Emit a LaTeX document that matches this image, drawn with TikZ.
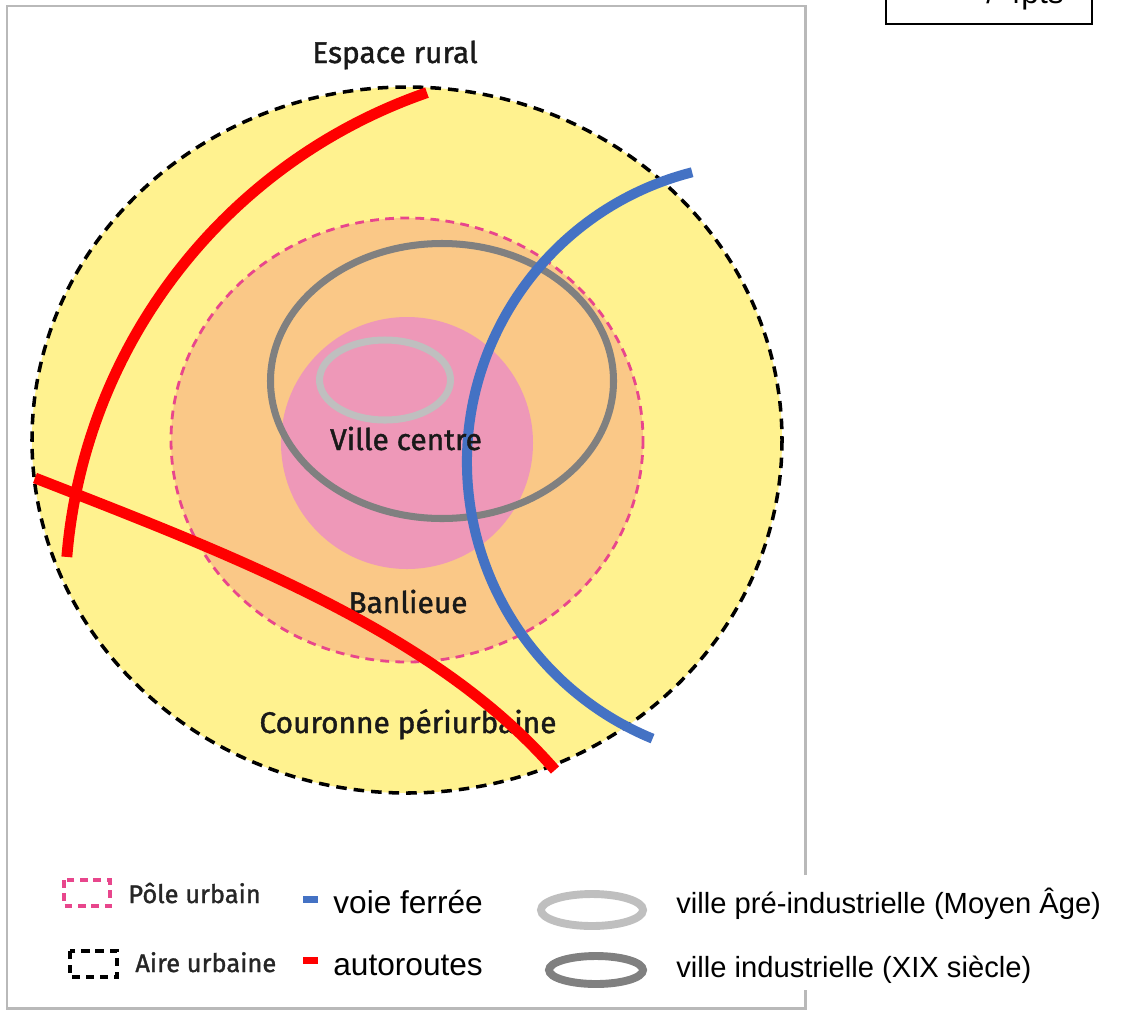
\documentclass[tikz,border=0pt]{standalone}
\usepackage{fontspec}
\setmainfont{Liberation Sans}
\newfontfamily\mapfont[FakeBold=1.3]{Fira Sans}
\usetikzlibrary{positioning}

\definecolor{aireyellow}{RGB}{255,242,143}
\definecolor{poleorange}{RGB}{250,200,135}
\definecolor{villepink}{RGB}{238,152,184}
\definecolor{polepink}{RGB}{232,70,140}
\definecolor{ferblue}{RGB}{68,114,196}
\definecolor{lightgrey}{RGB}{191,191,191}
\definecolor{darkgrey}{RGB}{128,128,128}
\definecolor{framegrey}{RGB}{185,185,185}

\tikzset{
  maplabel/.style={font=\mapfont\fontsize{17}{20}\selectfont, text=black!90, inner sep=0pt, anchor=base},
  legfira/.style={font=\mapfont\fontsize{14.5}{17}\selectfont, text=black!85, inner sep=0pt, anchor=base west},
  legtext/.style={font=\fontsize{18}{21}\selectfont, inner sep=0pt, anchor=base west},
  airedash/.style={black, line width=2pt, dash pattern=on 6pt off 4pt},
  poledash/.style={polepink, line width=1.6pt, dash pattern=on 5pt off 3.6pt},
  autoroute/.style={red, line width=6.2pt},
  voieferree/.style={ferblue, line width=5.7pt}
}

\begin{document}
\begin{tikzpicture}[x=0.02cm, y=-0.02cm]
    \useasboundingbox (0,0) rectangle (1125,1011);

    \draw [framegrey, line width=1.7pt] (805,875) -- (805,6) -- (7,6) -- (7,1008) -- (805,1008) -- (805,990);

    \draw [airedash, fill=aireyellow] (407,440) ellipse [x radius=375, y radius=353];
    \draw [poledash, fill=poleorange] (407,440) ellipse [x radius=236, y radius=222];
    \fill [villepink] (407,443) circle [radius=126];

    \draw [lightgrey, line width=4pt] (385,380) ellipse [x radius=65.5, y radius=40];
    \draw [darkgrey, line width=4pt] (442,381) ellipse [x radius=171.5, y radius=137.5];

    \draw [voieferree] (766,462) ++(255.7:299) arc [start angle=255.7, end angle=112.3, radius=299];

    \node [maplabel] (rural) at (395,63) {Espace rural};
    \node [maplabel] (centre) at (406,450) {Ville centre};
    \node [maplabel] (banlieue) at (408,613) {Banlieue};
    \node [maplabel] (couronne) at (408,733) {Couronne périurbaine};

    \draw [autoroute] (603,601) ++(250.9:538) arc [start angle=250.9, end angle=184.7, radius=538];
    \draw [autoroute] (35,478) .. controls (235,556) and (435,632) .. (555,770);

    \draw [poledash, line width=1.8pt, dash pattern=on 4.4pt off 3.2pt] (64,880) rectangle (110,906);
    \draw [airedash, dash pattern=on 4.6pt off 3.4pt] (70,951) rectangle (117,977);
    \node [legfira] (pole) at (128,903) {Pôle urbain};
    \node [legfira] (aire) at (135,972) {Aire urbaine};

    \fill [ferblue] (303,896) rectangle (318,903);
    \fill [red] (303,957) rectangle (318,964);
    \node [legtext] (ferree) at (333,913) {voie ferrée};
    \node [legtext] (autoroutes) at (333,975) {autoroutes};

    \draw [lightgrey, line width=4.5pt] (592,910) ellipse [x radius=51, y radius=16];
    \draw [darkgrey, line width=4.5pt] (596,970) ellipse [x radius=47, y radius=14];
    \node [legtext, font=\fontsize{16.6}{20}\selectfont] (preind) at (676,913) {ville pré-industrielle (Moyen Âge)};
    \node [legtext, font=\fontsize{16.6}{20}\selectfont] (indus) at (676,977) {ville industrielle (XIX siècle)};

    \draw [black, line width=0.8pt] (886,-30) -- (886,24) -- (1092,24) -- (1092,-30);
    \node [legtext, anchor=base east] (note) at (1064,3) {/ 4pts};
\end{tikzpicture}
\end{document}
